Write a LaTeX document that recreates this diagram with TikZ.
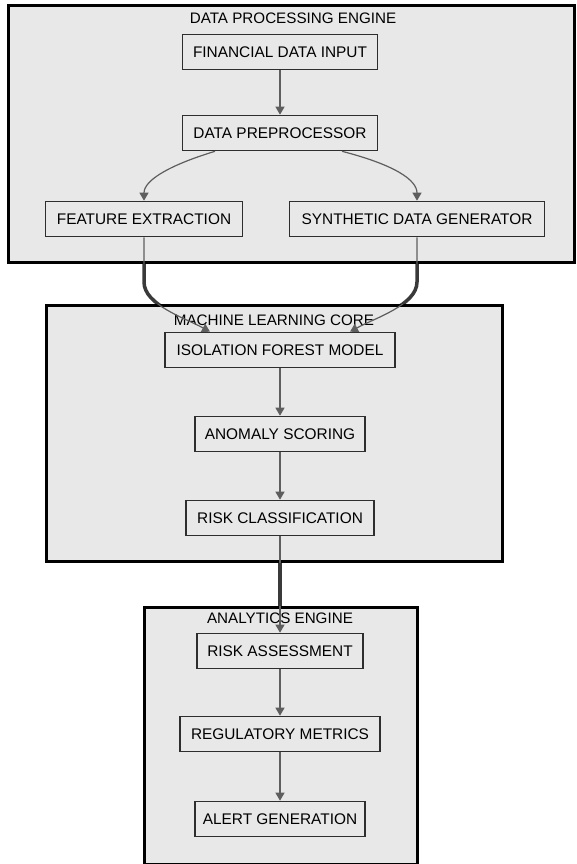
\documentclass[tikz,border=0pt]{standalone}
\usepackage{fontspec}
\setmainfont{Liberation Sans}
\usetikzlibrary{arrows.meta}
\definecolor{clfill}{HTML}{E8E8E8}
\definecolor{nodeline}{HTML}{2E2E2E}
\definecolor{edgecol}{HTML}{5E5E5E}
\definecolor{thickedge}{HTML}{3A3A3A}
\tikzset{
  cluster/.style={draw=black, line width=3pt, fill=clfill},
  cltitle/.style={font=\fontsize{15.2}{17}\selectfont, text=black, inner sep=0pt},
  box/.style={draw=nodeline, line width=1.6pt, fill=clfill, minimum height=35pt,
    inner sep=0pt, font=\fontsize{15.4}{17}\selectfont, text=black},
  flow/.style={draw=edgecol, line width=1.2pt, -{Triangle[length=8pt,width=9pt]}},
  bridge/.style={draw=thickedge, line width=3.5pt}
}
\begin{document}
\begin{tikzpicture}[x=1pt,y=-1pt]
\useasboundingbox (0,0) rectangle (577,864);
\fill[white] (0,0) rectangle (577,864);
% clusters
\draw[cluster] (8,6) rectangle (574,262);
\draw[cluster] (46,305) rectangle (502,561);
\draw[cluster] (144,607) rectangle (417,864);
\node[cltitle] (t1) at (293,18) {DATA PROCESSING ENGINE};
\node[cltitle] (t2) at (274,320) {MACHINE LEARNING CORE};
\node[cltitle] (t3) at (280,618) {ANALYTICS ENGINE};
% nodes
\node[box, minimum width=195pt] (fdi) at (280,52) {FINANCIAL DATA INPUT};
\node[box, minimum width=195pt] (dp) at (280,133) {DATA PREPROCESSOR};
\node[box, minimum width=197pt] (fe) at (144,219) {FEATURE EXTRACTION};
\node[box, minimum width=255pt] (sdg) at (417,219) {SYNTHETIC DATA GENERATOR};
\node[box, minimum width=230pt] (ifm) at (280,350) {ISOLATION FOREST MODEL};
\node[box, minimum width=170pt] (as) at (280,434) {ANOMALY SCORING};
\node[box, minimum width=188pt] (rc) at (280,518) {RISK CLASSIFICATION};
\node[box, minimum width=166pt] (ra) at (280,651) {RISK ASSESSMENT};
\node[box, minimum width=200pt] (rm) at (280,734) {REGULATORY METRICS};
\node[box, minimum width=170pt] (ag) at (280,819) {ALERT GENERATION};
% edges
\draw[flow] (fdi) -- (dp);
\draw[flow] ([xshift=-65pt]dp.south) .. controls (170,165) and (144,180) .. (fe.north);
\draw[flow] ([xshift=62pt]dp.south) .. controls (395,165) and (417,180) .. (sdg.north);
\draw[flow] (ifm) -- (as);
\draw[flow] (as) -- (rc);
\draw[flow] (ra) -- (rm);
\draw[flow] (rm) -- (ag);
\coordinate (ifmL) at ([xshift=-70pt]ifm.north);
\coordinate (ifmR) at ([xshift=70pt]ifm.north);
\draw[flow] (fe.south) -- (144,282) .. controls (144,305) and (185,318) .. (ifmL);
\draw[flow] (sdg.south) -- (417,282) .. controls (417,305) and (375,318) .. (ifmR);
\draw[flow] (rc.south) -- (ra.north);
\begin{scope}
\clip (0,264) rectangle (577,303);
\draw[bridge] (fe.south) -- (144,282) .. controls (144,305) and (185,318) .. (ifmL);
\draw[bridge] (sdg.south) -- (417,282) .. controls (417,305) and (375,318) .. (ifmR);
\end{scope}
\begin{scope}
\clip (0,563) rectangle (577,605);
\draw[bridge] (rc.south) -- (ra.north);
\end{scope}
\end{tikzpicture}
\end{document}
